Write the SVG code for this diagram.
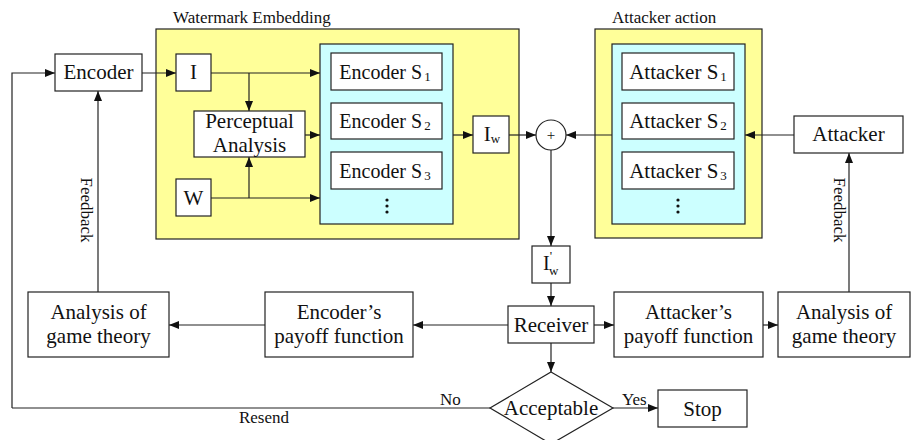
<svg xmlns="http://www.w3.org/2000/svg" width="911" height="440" viewBox="0 0 911 440" font-family="'Liberation Serif', 'Times New Roman', serif">
  <style>
    .box { fill: #ffffff; stroke: #222; stroke-width: 1.2; }
    .zone { fill: #ffff99; stroke: #222; stroke-width: 1.2; }
    .pool { fill: #ccffff; stroke: #222; stroke-width: 1.2; }
    .line { fill: none; stroke: #222; stroke-width: 1.2; }
    .arrow { fill: none; stroke: #222; stroke-width: 1.2; marker-end: url(#head); }
    text { font-family: "Liberation Serif", "Times New Roman", serif; fill: #111; }
    .t { font-size: 21px; text-anchor: middle; }
    .ts { font-size: 20px; text-anchor: middle; }
    .s { font-size: 17px; }
    .sub { font-size: 13px; }
  </style>
  <defs>
    <marker id="head" markerUnits="userSpaceOnUse" markerWidth="10" markerHeight="8" refX="10" refY="4" orient="auto">
      <path d="M0,0 L10,4 L0,8 Z" fill="#111"/>
    </marker>
  </defs>

  <!-- group frames -->
  <g id="embedding">
    <rect class="zone" x="156" y="29" width="363" height="210"/>
    <text class="s" x="173" y="23">Watermark Embedding</text>
    <rect class="pool" x="320" y="44" width="133" height="180"/>
  </g>
  <g id="attack">
    <rect class="zone" x="595" y="29" width="167" height="209"/>
    <text class="s" x="612" y="23">Attacker action</text>
    <rect class="pool" x="612" y="44" width="133" height="180"/>
  </g>

  <!-- connectors -->
  <g id="connectors">
    <path class="arrow" d="M12,408 V73 H55"/>
    <path class="arrow" d="M142,73 H176"/>
    <path class="arrow" d="M211,73 H320"/>
    <path class="arrow" d="M249,73 V111"/>
    <path class="arrow" d="M211,198 H320"/>
    <path class="arrow" d="M249,198 V157"/>
    <path class="arrow" d="M305,135 H320"/>
    <path class="arrow" d="M453,135 H473"/>
    <path class="arrow" d="M509,135 H536"/>
    <path class="arrow" d="M612,135 H566"/>
    <path class="arrow" d="M794,135 H745"/>
    <path class="arrow" d="M551,150 V246"/>
    <path class="arrow" d="M551,283 V306"/>
    <path class="arrow" d="M508,325 H413"/>
    <path class="arrow" d="M265,325 H169"/>
    <path class="arrow" d="M594,325 H614"/>
    <path class="arrow" d="M763,325 H778"/>
    <path class="arrow" d="M98,292 V91"/>
    <path class="arrow" d="M849,292 V153"/>
    <path class="arrow" d="M551,343 V372"/>
    <path class="line" d="M490,408 H12"/>
    <path class="arrow" d="M613,408 H658"/>
    <text class="s" transform="translate(81,210) rotate(90)" text-anchor="middle">Feedback</text>
    <text class="s" transform="translate(834,210) rotate(90)" text-anchor="middle">Feedback</text>
    <text class="s" x="264" y="423" text-anchor="middle">Resend</text>
    <text class="s" x="440" y="405">No</text>
    <text class="s" x="622" y="405">Yes</text>
  </g>

  <!-- nodes -->
  <g id="encoder">
    <rect class="box" x="55" y="54" width="87" height="37"/>
    <text class="t" x="98.5" y="79">Encoder</text>
  </g>
  <g id="image">
    <rect class="box" x="176" y="54" width="35" height="37"/>
    <text class="t" x="193.5" y="79">I</text>
  </g>
  <g id="perceptual">
    <rect class="box" x="194" y="111" width="111" height="46"/>
    <text class="t" x="249.5" y="128">Perceptual</text>
    <text class="t" x="249.5" y="152">Analysis</text>
  </g>
  <g id="watermark">
    <rect class="box" x="176" y="179" width="35" height="37"/>
    <text class="t" x="193.5" y="205">W</text>
  </g>
  <g id="encoder-s1">
    <rect class="box" x="331" y="53" width="111" height="37"/>
    <text class="ts" x="385" y="79">Encoder S<tspan class="sub" dx="2" dy="2">1</tspan></text>
  </g>
  <g id="encoder-s2">
    <rect class="box" x="331" y="103" width="111" height="36"/>
    <text class="ts" x="385" y="128">Encoder S<tspan class="sub" dx="2" dy="2">2</tspan></text>
  </g>
  <g id="encoder-s3">
    <rect class="box" x="331" y="152" width="111" height="37"/>
    <text class="ts" x="385" y="178">Encoder S<tspan class="sub" dx="2" dy="2">3</tspan></text>
  </g>
  <g id="encoder-more">
    <circle cx="387" cy="200" r="1.6" fill="#111"/>
    <circle cx="387" cy="206" r="1.6" fill="#111"/>
    <circle cx="387" cy="212" r="1.6" fill="#111"/>
  </g>
  <g id="watermarked">
    <rect class="box" x="473" y="116" width="36" height="37"/>
    <text class="t" x="492" y="141">I<tspan class="sub" dy="2">w</tspan></text>
  </g>
  <g id="sum">
    <circle cx="551" cy="135" r="15" fill="#fff" stroke="#222" stroke-width="1.2"/>
    <text x="551" y="140" font-size="15" text-anchor="middle">+</text>
  </g>
  <g id="attacker-s1">
    <rect class="box" x="622" y="53" width="112" height="37"/>
    <text class="t" x="678" y="79">Attacker S<tspan class="sub" dx="2" dy="2">1</tspan></text>
  </g>
  <g id="attacker-s2">
    <rect class="box" x="622" y="103" width="112" height="36"/>
    <text class="t" x="678" y="128">Attacker S<tspan class="sub" dx="2" dy="2">2</tspan></text>
  </g>
  <g id="attacker-s3">
    <rect class="box" x="622" y="152" width="112" height="37"/>
    <text class="t" x="678" y="178">Attacker S<tspan class="sub" dx="2" dy="2">3</tspan></text>
  </g>
  <g id="attacker-more">
    <circle cx="678" cy="200" r="1.6" fill="#111"/>
    <circle cx="678" cy="206" r="1.6" fill="#111"/>
    <circle cx="678" cy="212" r="1.6" fill="#111"/>
  </g>
  <g id="attacker">
    <rect class="box" x="794" y="116" width="109" height="37"/>
    <text class="t" x="848.5" y="141">Attacker</text>
  </g>
  <g id="received">
    <rect class="box" x="532" y="246" width="38" height="37"/>
    <text font-size="20" x="543" y="270">I<tspan class="sub" dx="0" dy="-10">'</tspan><tspan class="sub" dx="-3" dy="15">w</tspan></text>
  </g>
  <g id="receiver">
    <rect class="box" x="508" y="306" width="86" height="37"/>
    <text class="t" x="551" y="332">Receiver</text>
  </g>
  <g id="encoder-payoff">
    <rect class="box" x="265" y="292" width="148" height="65"/>
    <text class="t" x="339" y="319">Encoder’s</text>
    <text class="t" x="339" y="343">payoff function</text>
  </g>
  <g id="analysis-left">
    <rect class="box" x="28" y="292" width="141" height="65"/>
    <text class="t" x="98.5" y="319">Analysis of</text>
    <text class="t" x="98.5" y="343">game theory</text>
  </g>
  <g id="attacker-payoff">
    <rect class="box" x="614" y="292" width="149" height="65"/>
    <text class="t" x="688.5" y="319">Attacker’s</text>
    <text class="t" x="688.5" y="343">payoff function</text>
  </g>
  <g id="analysis-right">
    <rect class="box" x="778" y="292" width="132" height="65"/>
    <text class="t" x="844" y="319">Analysis of</text>
    <text class="t" x="844" y="343">game theory</text>
  </g>
  <g id="acceptable">
    <path class="box" d="M551,372 L613,408 L551,444 L490,408 Z"/>
    <text class="t" x="551" y="415">Acceptable</text>
  </g>
  <g id="stop">
    <rect class="box" x="658" y="390" width="89" height="37"/>
    <text class="t" x="702.5" y="416">Stop</text>
  </g>
</svg>
